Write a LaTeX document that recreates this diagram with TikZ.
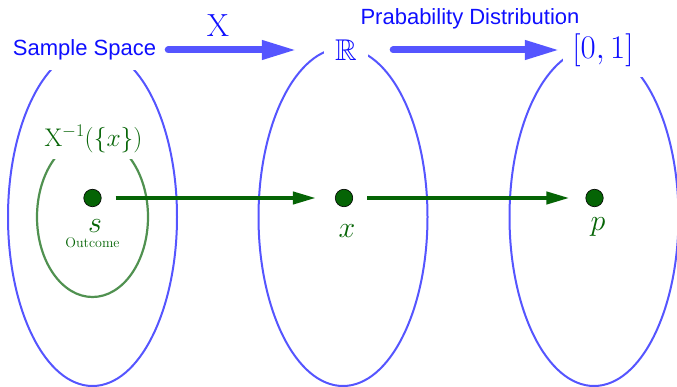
\RequirePackage{fix-cm}
\documentclass[tikz,border=0pt]{standalone}
\usepackage{amssymb}
\usepackage{fontspec}
\newfontfamily\lsans{Liberation Sans}
\usetikzlibrary{arrows.meta}
\definecolor{ellblue}{RGB}{85,85,255}
\definecolor{txtblue}{RGB}{15,15,255}
\definecolor{dgreen}{RGB}{5,100,5}
\definecolor{mgreen}{RGB}{80,145,80}
\begin{document}
\begin{tikzpicture}[x=1pt,y=-1pt,
  bigell/.style={draw=ellblue,line width=2pt},
  smallell/.style={draw=mgreen,line width=2.2pt},
  bluelab/.style={fill=white,text=txtblue},
  bluearrow/.style={draw=ellblue,line width=7pt,line cap=round,-{Triangle[length=35pt,width=18pt]}},
  dot/.style={circle,fill=dgreen,draw=black,line width=0.6pt,minimum size=17.5pt,inner sep=0pt},
  greenarrow/.style={draw=dgreen,line width=4pt,-{Triangle[length=23pt,width=12pt]}},
  greenlab/.style={text=dgreen,inner sep=0pt,anchor=base}]
\useasboundingbox (0,0) rectangle (677,387);
% big sets
\draw[bigell] (92.5,217) ellipse [x radius=84.5pt, y radius=169pt];
\draw[bigell] (343,217) ellipse [x radius=84.5pt, y radius=169pt];
\draw[bigell] (594,217) ellipse [x radius=84.5pt, y radius=169pt];
% preimage set
\draw[smallell] (92.5,217) ellipse [x radius=55.5pt, y radius=80pt];
% labels
\node[bluelab, font=\lsans\fontsize{22}{26}\selectfont, inner xsep=4pt, minimum height=40pt] (ss) at (84.5,50) {Sample Space};
\node[text=txtblue, font=\lsans\fontsize{22}{26}\selectfont] (pd) at (470,19) {Prabability Distribution};
\node[text=txtblue, font=\fontsize{32}{36}\selectfont, inner sep=0pt] (X) at (218,26) {$\mathrm{X}$};
\node[bluelab, font=\fontsize{30}{34}\selectfont, minimum width=44pt, inner ysep=1pt] (R) at (346,50) {$\mathbb{R}$};
\node[bluelab, font=\fontsize{33}{37}\selectfont, minimum width=80pt, minimum height=54pt] (U) at (603,50) {$[0,1]$};
\node[fill=white, text=dgreen, font=\fontsize{25.5}{29}\selectfont, inner sep=6pt] (pre) at (93.5,139) {$\mathrm{X}^{-1}(\{x\})$};
% arrows between spaces
\draw[bluearrow, shorten <=8pt, shorten >=27pt] (ss.east) -- (R.west);
\draw[bluearrow, shorten <=25pt, shorten >=3pt] (R.east) -- (U.west);
% points
\node[dot] (sdot) at (92.5,198) {};
\node[dot] (xdot) at (344,198) {};
\node[dot] (pdot) at (594.5,198) {};
\node[greenlab, font=\fontsize{30}{32}\selectfont] (slab) at (95,233) {$s$};
\node[greenlab, font=\fontsize{14}{16}\selectfont] (out) at (92.5,248) {Outcome};
\node[greenlab, font=\fontsize{30}{32}\selectfont] (xlab) at (347,238) {$x$};
\node[greenlab, font=\fontsize{30}{32}\selectfont] (plab) at (598,231) {$p$};
% maps
\draw[greenarrow, shorten <=14pt, shorten >=19pt] (sdot) -- (xdot);
\draw[greenarrow, shorten <=14pt, shorten >=16pt] (xdot) -- (pdot);
\end{tikzpicture}
\end{document}
